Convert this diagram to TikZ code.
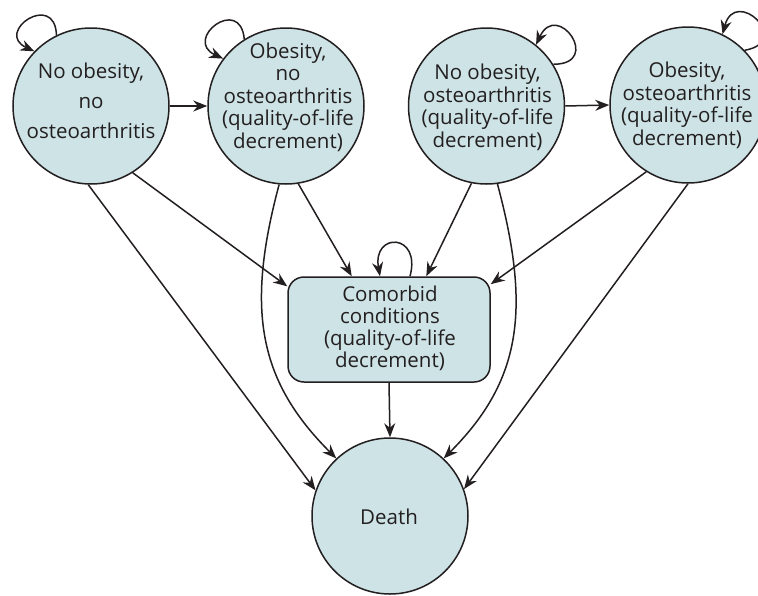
\documentclass[tikz,border=0pt]{standalone}
\usepackage{fontspec}
\setmainfont{Open Sans}
\usetikzlibrary{arrows.meta,calc}
\definecolor{nodefill}{HTML}{CDE3E6}
\definecolor{ink}{HTML}{231F20}
\begin{document}
\begin{tikzpicture}[x=1pt,y=-1pt,
  state/.style={circle,draw=ink,fill=nodefill,line width=1.5pt,minimum size=156pt,inner sep=0pt},
  cbox/.style={rectangle,rounded corners=16pt,draw=ink,fill=nodefill,line width=1.5pt,minimum width=202pt,minimum height=105pt,inner sep=0pt},
  lbl/.style={align=center,text=ink,inner sep=0pt,anchor=base,font=\fontsize{20.5}{22.5}\selectfont},
  arr/.style={draw=ink,line width=1.5pt,-{Stealth[length=14pt,width=11pt]}},
]
\useasboundingbox (0,0) rectangle (758,595);
% states
\node[state] (n1) at (91,106) {};
\node[state] (n2) at (286,106) {};
\node[state] (n3) at (486.5,106) {};
\node[state] (n4) at (688,105) {};
\node[cbox] (cb) at (389,329.5) {};
\node[state] (death) at (390,516) {};
% labels (anchored at the baseline of the last line)
\node[lbl,font=\fontsize{20.5}{30}\selectfont] (t1) at (91,138) {No obesity,\\no\\osteoarthritis};
\node[lbl] (t2) at (288,148) {Obesity,\\no\\osteoarthritis\\(quality-of-life\\decrement)};
\node[lbl] (t3) at (487.5,147) {No obesity,\\osteoarthritis\\(quality-of-life\\decrement)};
\node[lbl] (t4) at (687,145) {Obesity,\\osteoarthritis\\(quality-of-life\\decrement)};
\node[lbl,font=\fontsize{20.5}{21.7}\selectfont] (tc) at (390,367) {Comorbid\\conditions\\(quality-of-life\\decrement)};
\node[lbl] (td) at (389,524) {Death};
% horizontal transitions
\draw[arr] (n1.east) -- (n2.west);
\draw[arr] (n3.east) -- (n4.west);
% to comorbid
\draw[arr] (n1.-58) -- (cb.157);
\draw[arr] (n2.-81) -- (cb.125);
\draw[arr] (n3.-101) -- (cb.55);
\draw[arr] (n4.-122) -- (cb.24);
% to death
\draw[arr] (n1.-92) -- (death.161);
\draw[arr] (n2.-95) .. controls +(-105:130pt) and +(135:110pt) .. (death.133);
\draw[arr] (n3.-82) .. controls +(-75:130pt) and +(45:110pt) .. (death.47);
\draw[arr] (n4.-90) -- (death.20);
\draw[arr] (cb.south) -- (death.north);
% self loops
\draw[arr] (n1.116) .. controls +(92:45pt) and +(155:45pt) .. (n1.136);
\draw[arr] (n2.122) .. controls +(95:45pt) and +(155:45pt) .. (n2.143);
\draw[arr] (n3.32) .. controls +(0:50pt) and +(65:50pt) .. (n3.51);
\draw[arr] (n4.44) .. controls +(10:50pt) and +(75:50pt) .. (n4.64);
\draw[arr] ([xshift=21pt]cb.north) .. controls +(75:45pt) and +(100:45pt) .. ([xshift=-9pt]cb.north);
\end{tikzpicture}
\end{document}
